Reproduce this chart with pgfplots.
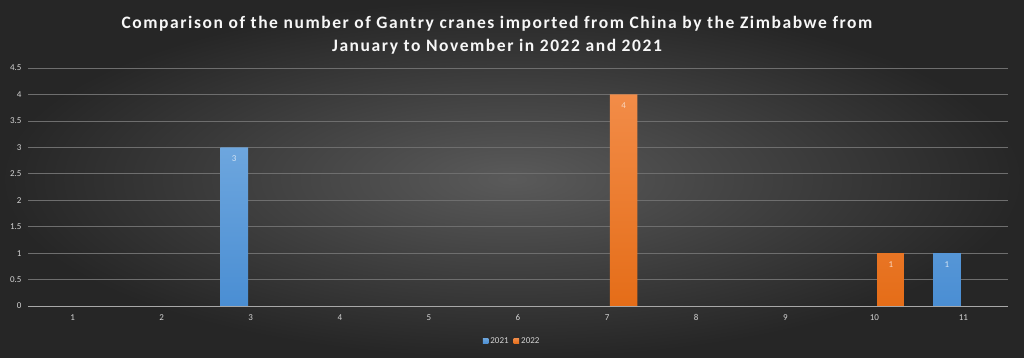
\documentclass[border=0pt]{standalone}
\usepackage{pgfplots}
\pgfplotsset{compat=1.18}
\usepackage{fontspec}
\setmainfont{Carlito}
\definecolor{bgin}{HTML}{5A5A5A}
\definecolor{bgout}{HTML}{262626}
\definecolor{bluetop}{HTML}{6DA6DE}
\definecolor{bluebot}{HTML}{4A8ED3}
\definecolor{orgtop}{HTML}{F28C48}
\definecolor{orgbot}{HTML}{E56D18}
\definecolor{tickc}{HTML}{D4D4D4}
\definecolor{gridc}{HTML}{6E6E6E}
\definecolor{axc}{HTML}{A8A8A8}
\begin{document}
\begin{tikzpicture}
\shade[inner color=bgin, outer color=bgout] (0pt,0pt) rectangle (1024pt,358pt);
\node[font=\bfseries\fontsize{17.5}{23}\selectfont\addfontfeature{LetterSpace=9}, text=white!94!gray, align=center] at (497pt,323pt) {Comparison of the number of Gantry cranes imported from China by the Zimbabwe from\\January to November in 2022 and 2021};
\begin{axis}[
  at={(28pt,52pt)}, anchor=south west, scale only axis,
  width=980pt, height=238pt,
  xmin=0.5, xmax=11.5, ymin=0, ymax=4.5,
  xtick={1,...,11}, ytick={0,0.5,...,4.5},
  ymajorgrids, major grid style={gridc, line width=0.6pt},
  axis x line*=bottom, axis y line*=left,
  x axis line style={axc, line width=0.8pt, -},
  y axis line style={draw=none},
  major tick length=0pt,
  /pgf/number format/assume math mode=true,
  ticklabel style={font=\fontsize{9}{10}\selectfont, text=tickc},
  yticklabel style={xshift=-3pt},
  xticklabel style={yshift=-5pt},
  clip=false,
  legend style={at={(0.494,-0.147)}, anchor=center, draw=none, fill=none,
    text=tickc, font=\fontsize{9}{10}\selectfont, legend columns=2,
    /tikz/every even column/.append style={column sep=3pt}},
  legend image code/.code={\fill[#1] (0pt,-2.8pt) rectangle (5.6pt,2.8pt);},
  nodes near coords,
  every node near coord/.append style={anchor=north, yshift=-5pt, font=\fontsize{9}{10}\selectfont},
]
\addplot[ybar, bar width=0.31, bar shift=-0.185, draw=none, top color=bluetop, bottom color=bluebot, nodes near coords style={text=white!70!bluetop, xshift=-16.5pt}] coordinates {(3,3) (11,1)};
\addlegendentry{2021}
\addplot[ybar, bar width=0.31, bar shift=0.185, draw=none, top color=orgtop, bottom color=orgbot, nodes near coords style={text=white!65!orgtop, xshift=16.5pt}] coordinates {(7,4) (10,1)};
\addlegendentry{2022}
\end{axis}
\end{tikzpicture}
\end{document}
